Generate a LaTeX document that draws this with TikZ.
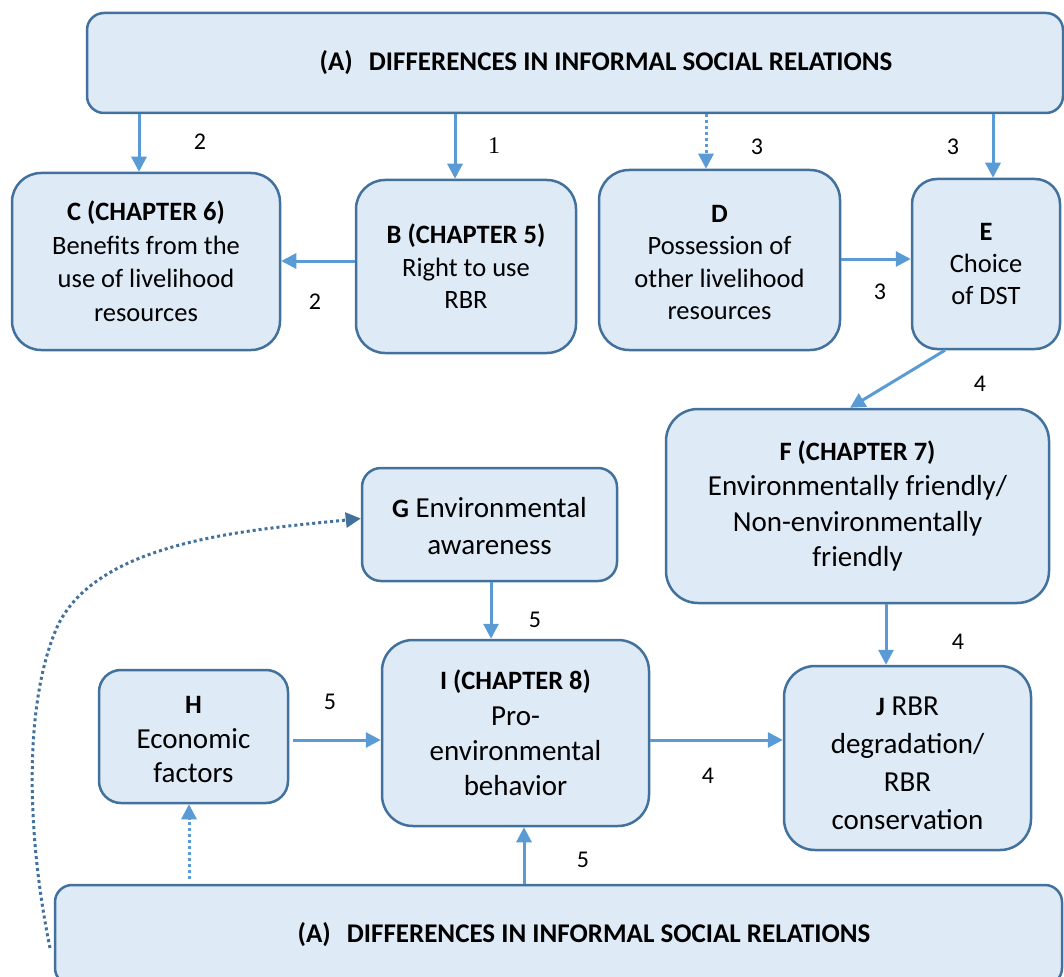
\documentclass[tikz,border=0pt]{standalone}
\usepackage{fontspec}
\setmainfont{Carlito}
\newfontfamily\serifone{Liberation Serif}
\usetikzlibrary{arrows.meta,calc}
\definecolor{boxfill}{HTML}{DEEAF6}
\definecolor{boxline}{HTML}{41719C}
\definecolor{arrcol}{HTML}{5B9BD5}
\newcommand\hdf{\fontsize{26.5}{33}\selectfont\bfseries}
\tikzset{
  box/.style={draw=boxline, fill=boxfill, line width=2.5pt, align=center, inner sep=0pt,
    font=\fontsize{26.5}{33}\selectfont},
  bigbox/.style={box, font=\fontsize{29}{35.3}\selectfont},
  arr/.style={draw=arrcol, line width=3pt, -{Triangle[length=15pt,width=15pt]}},
  darr/.style={arr, dash pattern=on 3pt off 3pt},
  lab/.style={font=\fontsize{24}{28}\selectfont, inner sep=0pt},
}
\begin{document}
\begin{tikzpicture}[x=1pt,y=-1pt]
\useasboundingbox (0,0) rectangle (1064,976);
% boxes
\node[box, minimum width=976pt, minimum height=100pt, rounded corners=17pt,
  font=\fontsize{27}{33}\selectfont\bfseries] (At) at (575,63)
  {\hspace*{62pt}(A)\hspace{16pt}DIFFERENCES IN INFORMAL SOCIAL RELATIONS};
\node[box, minimum width=1007pt, minimum height=100pt, rounded corners=17pt,
  font=\fontsize{27}{33}\selectfont\bfseries] (Ab) at (558.5,935)
  {\hspace*{51pt}(A)\hspace{16pt}DIFFERENCES IN INFORMAL SOCIAL RELATIONS};
\node[box, minimum width=268pt, minimum height=177pt, rounded corners=29pt,
  font=\fontsize{26.5}{33.5}\selectfont] (C) at (146,261.5)
  {{\hdf C (CHAPTER 6)}\\Benefits from the\\use of livelihood\\resources};
\node[box, minimum width=220pt, minimum height=173pt, rounded corners=29pt,
  font=\fontsize{26.5}{32.5}\selectfont] (B) at (466,266.5)
  {{\hdf B (CHAPTER 5)}\\Right to use\\RBR};
\node[box, minimum width=241pt, minimum height=180pt, rounded corners=30pt,
  font=\fontsize{26.5}{32.5}\selectfont] (D) at (719.5,260)
  {\rule{0pt}{22pt}{\hdf D}\\Possession of\\other livelihood\\resources};
\node[box, minimum width=148pt, minimum height=170pt, rounded corners=25pt,
  font=\fontsize{26.5}{32}\selectfont] (E) at (986,264)
  {{\hdf E}\\Choice\\of DST};
\node[bigbox, minimum width=383pt, minimum height=194pt, rounded corners=32pt] (F) at (857.5,506)
  {{\hdf F (CHAPTER 7)}\\Environmentally friendly/\\Non-environmentally\\friendly};
\node[bigbox, minimum width=255pt, minimum height=113pt, rounded corners=19pt,
  font=\fontsize{29}{37}\selectfont] (G) at (489.5,524.5)
  {\rule{0pt}{24pt}{\hdf G} Environmental\\awareness};
\node[bigbox, minimum width=189pt, minimum height=133pt, rounded corners=22pt,
  font=\fontsize{29}{34.5}\selectfont] (H) at (193.5,736.5)
  {\rule{0pt}{24pt}{\hdf H}\\Economic\\factors};
\node[bigbox, minimum width=267pt, minimum height=186pt, rounded corners=31pt] (I) at (515.5,733)
  {{\hdf I (CHAPTER 8)}\\Pro-\\environmental\\behavior};
\node[bigbox, minimum width=247pt, minimum height=184pt, rounded corners=31pt,
  font=\fontsize{29}{38}\selectfont] (J) at (907.5,758)
  {\rule{0pt}{30pt}{\hdf J} RBR\\degradation/\\RBR\\conservation};
% connectors
\draw[arr] ([xshift=-7pt]C.north |- At.south) -- ([xshift=-7pt]C.north);
\draw[arr] ([xshift=-11pt]B.north |- At.south) -- ([xshift=-11pt]B.north);
\draw[darr] ([xshift=-13.5pt]D.north |- At.south) -- ([xshift=-13.5pt]D.north);
\draw[arr] ([xshift=7pt]E.north |- At.south) -- ([xshift=7pt]E.north);
\draw[arr] ([yshift=5.5pt]B.west) -- ([yshift=5.5pt]B.west -| C.east);
\draw[arr] ([yshift=1pt]D.east) -- ([yshift=1pt]D.east -| E.west);
\draw[arr] ([xshift=-41pt]E.south) -- ([xshift=-7.5pt]F.north);
\draw[arr] ([xshift=28.5pt]F.south) -- ([xshift=28.5pt]F.south |- J.north);
\draw[arr] ([xshift=1.5pt]G.south) -- ([xshift=1.5pt]G.south |- I.north);
\draw[arr] ([yshift=-3.5pt,xshift=4pt]H.east) -- ([yshift=-3.5pt]H.east -| I.west);
\draw[arr] ([yshift=-7pt]I.east) -- ([yshift=-7pt]I.east -| J.west);
\draw[arr] ([xshift=8.5pt]I.south |- Ab.north) -- ([xshift=8.5pt]I.south);
\draw[darr] ([xshift=-4.5pt,yshift=5pt]H.south |- Ab.north) -- ([xshift=-4.5pt]H.south);
\coordinate (cs) at (50,948);
\draw[draw=boxline, line width=3pt, dash pattern=on 3pt off 3pt,
  -{Triangle[length=15pt,width=15pt]}]
  (cs) .. controls (26,830) and (24,700) .. (58,625)
       .. controls (100,540) and (250,530) .. ([yshift=6pt]G.west);
% labels
\node[lab] (l1) at (200,142) {2};
\node[lab, font=\serifone\fontsize{24}{28}\selectfont] (l2) at (494,146) {1};
\node[lab] (l3) at (757,147) {3};
\node[lab] (l4) at (953,147) {3};
\node[lab] (l5) at (315,302) {2};
\node[lab] (l6) at (880,292) {3};
\node[lab] (l7) at (980,384) {4};
\node[lab] (l8) at (535,620) {5};
\node[lab] (l9) at (958,642) {4};
\node[lab] (l10) at (330,702) {5};
\node[lab] (l11) at (708,776) {4};
\node[lab] (l12) at (583,860) {5};
\end{tikzpicture}
\end{document}
